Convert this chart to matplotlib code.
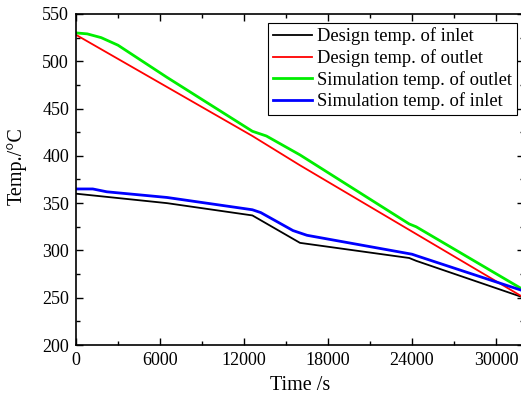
import matplotlib
matplotlib.use("Agg")
import matplotlib.pyplot as plt
from matplotlib.ticker import MultipleLocator

plt.rcParams['font.family'] = ['Liberation Serif', 'DejaVu Serif']
plt.rcParams['mathtext.fontset'] = 'stix'

# design temperatures
t_design = [0, 6500, 12600, 16000, 23800, 24300, 32000]
design_inlet = [360, 350, 337, 308, 292, 289, 250]
t_out = [0, 12600, 16000, 24000, 32000]
design_outlet = [528, 421, 390, 320, 250]

# simulation temperatures
t_sim_out = [0, 800, 1800, 3000, 6500, 12600, 13600, 16000, 23800, 24300, 32000]
sim_outlet = [530, 529, 525, 517, 483, 426, 421, 401, 328, 325, 258]
t_sim_in = [0, 1200, 2200, 6500, 12600, 13200, 15500, 16500, 24000, 24400, 32000]
sim_inlet = [365, 365, 362, 356, 343, 340, 321, 316, 296, 294, 257]

fig = plt.figure(figsize=(5.21, 3.94), dpi=100)
ax = fig.add_axes([76 / 521, 1 - 345 / 394, 448 / 521, 331 / 394])

ax.plot(t_design, design_inlet, color='black', lw=1.3, label='Design temp. of inlet')
ax.plot(t_out, design_outlet, color='red', lw=1.3, label='Design temp. of outlet')
ax.plot(t_sim_out, sim_outlet, color='#00ee00', lw=2, label='Simulation temp. of outlet')
ax.plot(t_sim_in, sim_inlet, color='blue', lw=2, label='Simulation temp. of inlet')

ax.set_xlim(0, 32000)
ax.set_ylim(200, 550)
ax.xaxis.set_major_locator(MultipleLocator(6000))
ax.xaxis.set_minor_locator(MultipleLocator(3000))
ax.yaxis.set_major_locator(MultipleLocator(50))
ax.yaxis.set_minor_locator(MultipleLocator(25))
ax.tick_params(which='both', direction='in', top=True, right=True, labelsize=13)
ax.tick_params(which='major', length=5, width=1, pad=5)
ax.tick_params(which='minor', length=3, width=1)
for s in ax.spines.values():
    s.set_linewidth(1.2)

ax.set_xlabel('Time /s', fontsize=14.5, labelpad=5)
ax.set_ylabel('Temp./°C', fontsize=14.5)
ax.yaxis.set_label_coords(27 / 521, 1 - 166 / 394, transform=fig.transFigure)

leg = ax.legend(loc='upper right', bbox_to_anchor=(517 / 521, 1 - 23 / 394),
                bbox_transform=fig.transFigure, fontsize=13.3, fancybox=False,
                edgecolor='black', framealpha=1, borderpad=0.25, labelspacing=0.2,
                handlelength=2.1, handletextpad=0.3, borderaxespad=0)
leg.get_frame().set_linewidth(0.8)

fig.savefig('out.png', dpi=100)
